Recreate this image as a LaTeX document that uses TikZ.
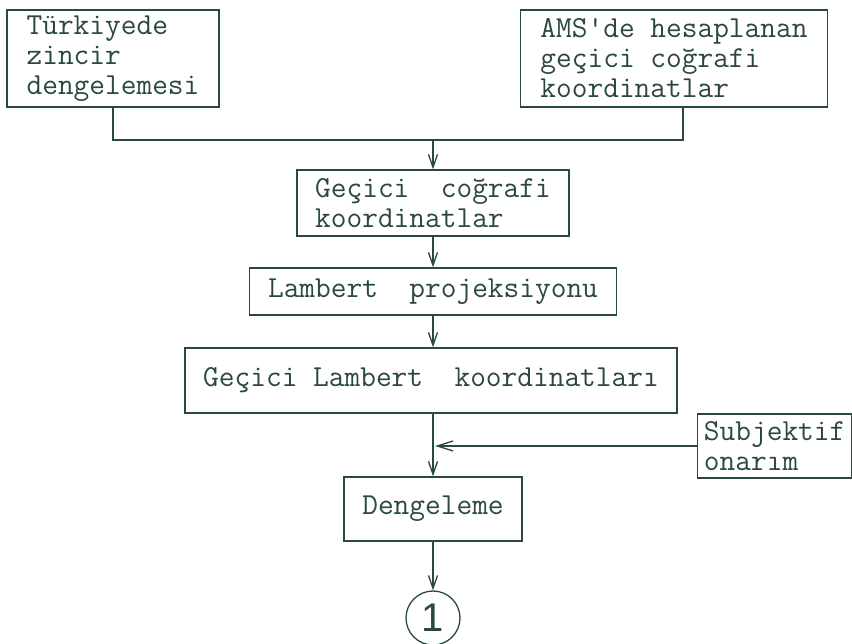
\documentclass[tikz,border=0pt]{standalone}
\usepackage{fontspec}
\newfontfamily\digitfont{Liberation Sans}
\usetikzlibrary{arrows.meta}
\definecolor{ink}{RGB}{42,72,62}
\begin{document}
\begin{tikzpicture}[x=1pt,y=-1pt,
  every node/.style={text=ink},
  flowbox/.style={draw=ink, line width=1.3pt, inner sep=0pt, align=left,
    font=\fontsize{30.5}{30}\selectfont\ttfamily},
  link/.style={draw=ink, line width=1.3pt},
  flow/.style={link, -{Straight Barb[length=13pt,width=9pt,line width=1.3pt]}},
  sideflow/.style={link, -{Straight Barb[length=16pt,width=10pt,line width=1.3pt]}}]
\useasboundingbox (0,0) rectangle (852,644);
% input boxes
\node[flowbox, minimum width=212, minimum height=97] (zincir) at (113,58.5)
  {Türkiyede\\zincir\\dengelemesi};
\node[flowbox, minimum width=307, minimum height=97] (ams) at (674,58.5)
  {AMS'de hesaplanan\\geçici coğrafi\\koordinatlar};
% main chain
\node[flowbox, minimum width=272, minimum height=66] (gecici) at (433,203)
  {Geçici\ \ coğrafi\\koordinatlar};
\node[flowbox, minimum width=367, minimum height=47] (proj) at (433,291.5)
  {Lambert\ \ projeksiyonu};
\node[flowbox, minimum width=492, minimum height=65] (lamb) at (431,380.5)
  {Geçici Lambert\ \ koordinatları};
\node[flowbox, minimum width=178, minimum height=64] (deng) at (433,509)
  {Dengeleme};
\node[flowbox, minimum width=154, minimum height=64, anchor=west] (sub) at (697,446)
  {Subjektif\\onarım};
\node[draw=ink, line width=1.3pt, circle, minimum size=54, inner sep=0pt,
  font=\fontsize{40}{40}\selectfont\digitfont] (one) at (433,618) {1};
% merge of the two inputs
\coordinate (join) at (433,140);
\draw[link] (zincir.south) |- (join);
\draw[link] ([xshift=9]ams.south) |- (join);
\draw[flow] (join) -- (join |- gecici.north);
\draw[flow] (gecici.south -| join) -- (proj.north -| join);
\draw[flow] (proj.south -| join) -- (lamb.north -| join);
\draw[flow] (lamb.south -| join) -- (deng.north -| join);
\draw[sideflow] (sub.west) -- ([xshift=2]sub.west -| join);
\draw[flow] (deng.south -| join) -- (one.north);
\end{tikzpicture}
\end{document}
